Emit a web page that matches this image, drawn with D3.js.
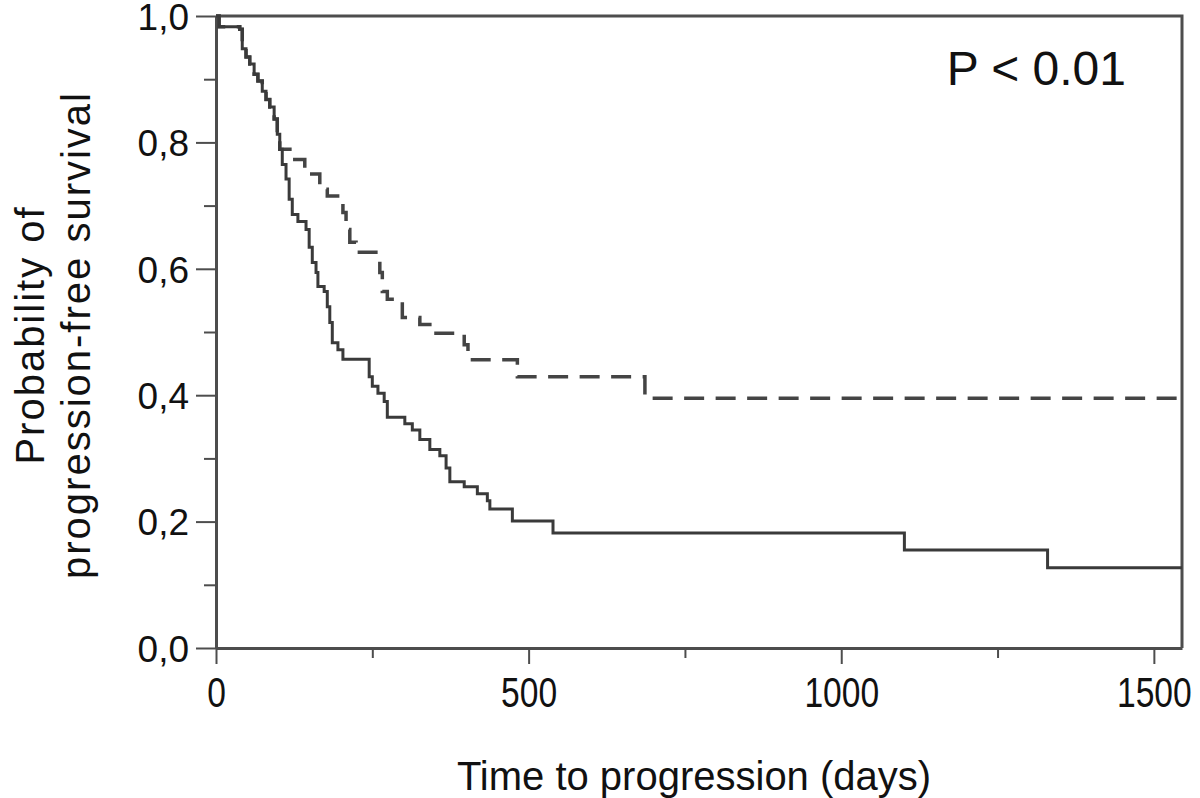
<!DOCTYPE html>
<html>
<head>
<meta charset="utf-8">
<script src="https://cdn.jsdelivr.net/npm/d3@7"></script>
<style>
  body { margin: 0; background: #fff; }
  text { font-family: "Liberation Sans", Arial, sans-serif; fill: #111; }
</style>
</head>
<body>
<script>
// Kaplan-Meier step points (day, probability)
var solidDays = [0, 5, 38, 42, 48, 54, 61, 67, 74, 80, 86, 93, 98, 102,
    106, 112, 117, 122, 131, 144, 149, 154, 160, 163, 173, 178, 182, 186, 195, 203,
    245, 250, 259, 269, 274, 302, 314, 326, 342, 358, 368, 374, 397, 418, 434, 438,
    474, 539, 1101, 1330, 1545];
var solidSurv = [1.0, 0.983, 0.979, 0.948, 0.935, 0.924, 0.908, 0.897, 0.881, 0.868, 0.856, 0.837, 0.813, 0.789,
    0.765, 0.742, 0.710, 0.686, 0.675, 0.662, 0.634, 0.610, 0.594, 0.572, 0.564, 0.540, 0.515, 0.483, 0.472, 0.457,
    0.429, 0.414, 0.403, 0.390, 0.365, 0.355, 0.345, 0.330, 0.314, 0.304, 0.285, 0.263, 0.255, 0.244, 0.233, 0.220,
    0.201, 0.182, 0.155, 0.127, 0.127];

var dashedDays = [0, 5, 38, 42, 48, 54, 61, 67, 74, 80, 86, 93, 98, 102,
    123, 142, 166, 178, 203, 208, 214, 224, 262, 266, 274, 298, 326, 342, 397, 403,
    482, 686, 1545];
var dashedSurv = [1.0, 0.983, 0.979, 0.948, 0.935, 0.924, 0.908, 0.897, 0.881, 0.868, 0.856, 0.837, 0.813, 0.789,
    0.773, 0.750, 0.726, 0.715, 0.689, 0.662, 0.642, 0.626, 0.594, 0.564, 0.552, 0.523, 0.512, 0.498, 0.480, 0.456,
    0.429, 0.395, 0.395];

var xMajor = [0, 500, 1000, 1500];
var xMinor = [250, 750, 1250];
var yMajor = [0, 0.2, 0.4, 0.6, 0.8, 1.0];
var yMinor = [0.1, 0.3, 0.5, 0.7, 0.9];

var plotLeft = 216, plotRight = 1182, plotTop = 16, plotBottom = 648;

var svg = d3.select("body").append("svg")
    .attr("width", 1200)
    .attr("height", 798);

var x = d3.scaleLinear().domain([0, 1545]).range([plotLeft, plotRight]);
var y = d3.scaleLinear().domain([0, 1]).range([plotBottom, plotTop]);

var axisColor = "#4d4d4d";

// frame (top and right)
svg.append("path")
    .attr("d", "M" + plotLeft + "," + plotTop + "H" + plotRight + "V" + plotBottom)
    .attr("fill", "none")
    .attr("stroke", axisColor)
    .attr("stroke-width", 3);

// x axis
var xAxis = svg.append("g")
    .attr("transform", "translate(0," + plotBottom + ")")
    .call(d3.axisBottom(x).tickValues(xMajor).tickSize(16).tickSizeOuter(0).tickPadding(14)
        .tickFormat(d3.format("d")));
svg.append("g")
    .attr("transform", "translate(0," + plotBottom + ")")
    .call(d3.axisBottom(x).tickValues(xMinor).tickSize(10).tickSizeOuter(0).tickFormat(""))
    .select(".domain").remove();

xAxis.selectAll("text")
    .style("font-size", "42px")
    .attr("transform", "scale(0.8,1)")
    .attr("dy", "0.7em");

// y axis
var yAxis = svg.append("g")
    .attr("transform", "translate(" + plotLeft + ",0)")
    .call(d3.axisLeft(y).tickValues(yMajor).tickSize(20).tickSizeOuter(0).tickPadding(7)
        .tickFormat(function (d) { return d3.format(".1f")(d).replace(".", ","); }));
svg.append("g")
    .attr("transform", "translate(" + plotLeft + ",0)")
    .call(d3.axisLeft(y).tickValues(yMinor).tickSize(12).tickSizeOuter(0).tickFormat(""))
    .select(".domain").remove();

yAxis.selectAll("text")
    .style("font-size", "37px")
    .attr("dy", "0.36em");

svg.selectAll(".domain").attr("stroke", axisColor).attr("stroke-width", 3);
svg.selectAll(".tick line").attr("stroke", axisColor).attr("stroke-width", 2);

// survival curves
var solid = solidDays.map(function (d, i) { return { t: d, s: solidSurv[i] }; });
var dashed = dashedDays.map(function (d, i) { return { t: d, s: dashedSurv[i] }; });

var km = d3.line()
    .x(function (d) { return x(d.t); })
    .y(function (d) { return y(d.s); })
    .curve(d3.curveStepAfter);

svg.append("path")
    .datum(dashed)
    .attr("d", km)
    .attr("fill", "none")
    .attr("stroke", "#444")
    .attr("stroke-width", 3.5)
    .attr("stroke-dasharray", "20,11.5");

svg.append("path")
    .datum(solid)
    .attr("d", km)
    .attr("fill", "none")
    .attr("stroke", "#3a3a3a")
    .attr("stroke-width", 3);

// annotation
svg.append("text")
    .attr("x", 1126)
    .attr("y", 85)
    .attr("text-anchor", "end")
    .style("font-size", "48px")
    .text("P < 0.01");

// axis titles
svg.append("text")
    .attr("x", (plotLeft + plotRight) / 2 - 5)
    .attr("y", 790)
    .attr("text-anchor", "middle")
    .style("font-size", "40px")
    .text("Time to progression (days)");

var yTitle = svg.append("text")
    .attr("transform", "translate(0,335) rotate(-90)")
    .attr("text-anchor", "middle")
    .style("font-size", "40px")
    .style("letter-spacing", "2px");
yTitle.append("tspan").attr("x", 0).attr("y", 44).text("Probability of");
yTitle.append("tspan").attr("x", 0).attr("y", 90).text("progression-free survival");
</script>
</body>
</html>
